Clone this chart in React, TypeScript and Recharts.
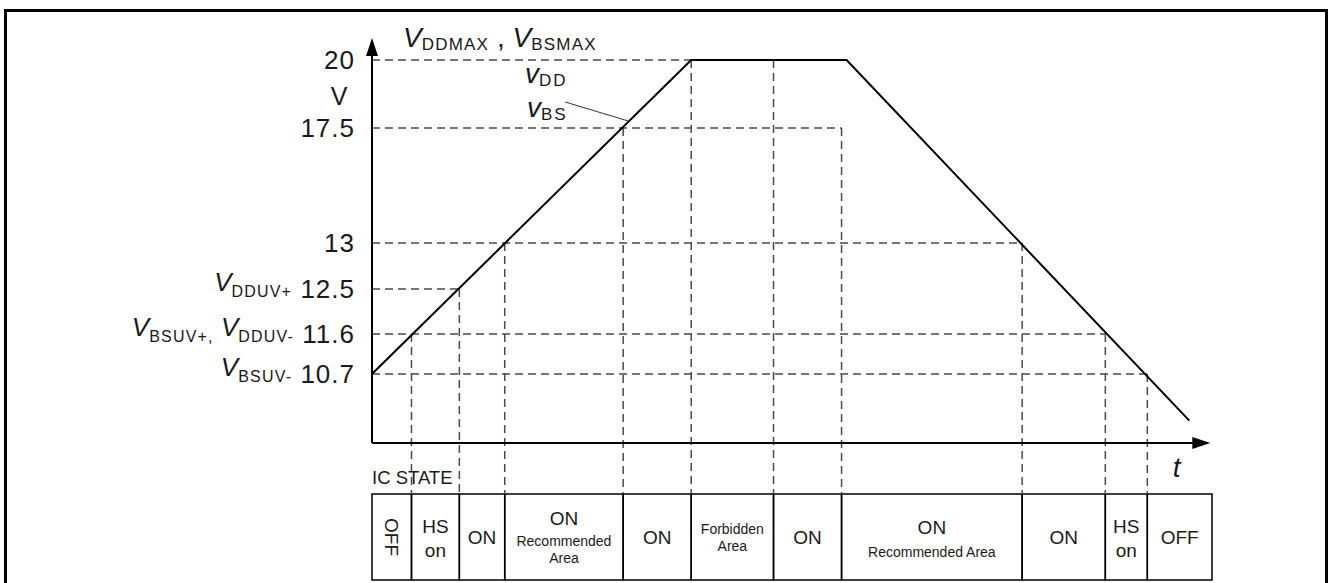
import React from 'react';
import {
  ComposedChart,
  Line,
  XAxis,
  YAxis,
  ReferenceLine,
  ReferenceArea,
  ReferenceDot,
} from 'recharts';

const FONT = '"Liberation Sans", Arial, Helvetica, sans-serif';
const INK = '#1a1a1a';
const DASH = '#4a4a4a';

// ---------------- data ----------------
// supply waveform v_DD / v_BS (time in arbitrary units, volts)
const waveTimes = [0, 38.0, 56.5, 97.3];
const waveVolts = [10.7, 20, 20, 9.65];

// voltage levels shown on the y axis
const levelVolts = [20, 17.5, 13, 12.5, 11.6, 10.7];
const levelNames: [string, string][][] = [
  [],
  [],
  [],
  [['V', 'DDUV+']],
  [['V', 'BSUV+,'], ['\u00a0V', 'DDUV-']],
  [['V', 'BSUV-']],
];
// time at which each level's dashed guide ends
const levelDashEnds = [38.0, 55.9, 77.4, 10.4, 87.3, 92.3];

// transition instants (vertical dashed guides)
const markerTimes = [4.7, 10.4, 15.8, 29.9, 38.0, 47.8, 55.9, 77.4, 87.3, 92.3];
const markerVolts = [11.6, 12.5, 13, 17.5, 20, 20, 17.5, 13, 11.6, 10.7];

// IC state table
const stateBounds = [0, 4.7, 10.4, 15.8, 29.9, 38.0, 47.8, 55.9, 77.4, 87.3, 92.3, 100];
const stateLabels: string[][] = [
  ['OFF'],
  ['HS', 'on'],
  ['ON'],
  ['ON', 'Recommended', 'Area'],
  ['ON'],
  ['Forbidden', 'Area'],
  ['ON'],
  ['ON', 'Recommended Area'],
  ['ON'],
  ['HS', 'on'],
  ['OFF'],
];
const rotatedStates = [0];

// ---------------- schematic (non-linear) voltage scale ----------------
// voltage -> schematic height above the time axis
const SCALE_ANCHORS: [number, number][] = [
  [10.7, 69],
  [11.6, 109],
  [12.5, 154],
  [13, 200],
  [17.5, 315],
  [20, 383],
];
function warp(v: number): number {
  const a = SCALE_ANCHORS;
  let i = 0;
  if (v <= a[0][0]) i = 0;
  else if (v >= a[a.length - 1][0]) i = a.length - 2;
  else {
    while (v > a[i + 1][0]) i++;
  }
  const [v0, h0] = a[i];
  const [v1, h1] = a[i + 1];
  return h0 + ((v - v0) * (h1 - h0)) / (v1 - v0);
}

const Y_MIN = -137;
const Y_MAX = 405;
const TABLE_TOP = -51;
const TABLE_BOTTOM = -137;
const X_MAX = 100;

const waveData = waveTimes.map((t, i) => ({ t, h: warp(waveVolts[i]) }));
const yTicks = levelVolts.map(warp);

// ---------------- renderers ----------------
const YTick = (props: any) => {
  const { x, y, payload } = props;
  const idx = levelVolts.findIndex((v) => Math.abs(warp(v) - payload.value) < 0.01);
  if (idx < 0) return null;
  const names = levelNames[idx] || [];
  const parts: any[] = [];
  names.forEach(([main, sub], k) => {
    parts.push(
      <tspan key={'m' + k} fontStyle="italic" fontSize={26} dy={k === 0 ? -7 : -5.4}>
        {main}
      </tspan>
    );
    parts.push(
      <tspan key={'s' + k} fontSize={16} dy={5.4} letterSpacing={1.2}>
        {sub}
      </tspan>
    );
  });
  parts.push(
    <tspan key="n" dy={names.length ? 1.6 : 0} letterSpacing={1}>
      {(names.length ? '\u00a0' : '') + String(levelVolts[idx])}
    </tspan>
  );
  return (
    <text x={x} y={y + 9.3} textAnchor="end" fontSize={26} fontFamily={FONT} fill={INK}>
      {parts}
    </text>
  );
};

const UpArrow = (p: any) => (
  <path d={`M${p.cx},${p.cy} L${p.cx - 6},${p.cy + 18} L${p.cx + 6},${p.cy + 18} Z`} fill="#000" />
);
const RightArrow = (p: any) => (
  <path d={`M${p.cx},${p.cy} L${p.cx - 18},${p.cy - 6} L${p.cx - 18},${p.cy + 6} Z`} fill="#000" />
);

const TopLabel = (p: any) => (
  <text x={p.cx} y={p.cy} fontFamily={FONT} fill={INK}>
    <tspan fontStyle="italic" fontSize={28}>V</tspan>
    <tspan fontSize={17} dy={2.5} letterSpacing={1.2}>DDMAX</tspan>
    <tspan fontSize={28} dy={-2.5}>{'\u00a0,\u00a0'}</tspan>
    <tspan fontStyle="italic" fontSize={28}>V</tspan>
    <tspan fontSize={17} dy={2.5} letterSpacing={1.2}>BSMAX</tspan>
  </text>
);

const makeVLabel = (sub: string) => (p: any) => (
  <text x={p.cx} y={p.cy} fontFamily={FONT} fill={INK}>
    <tspan fontStyle="italic" fontSize={28}>v</tspan>
    <tspan fontSize={17} dy={3.4} letterSpacing={2}>{sub}</tspan>
  </text>
);

const UnitLabel = (p: any) => (
  <text x={p.cx - 33} y={p.cy} textAnchor="middle" fontSize={25} fontFamily={FONT} fill={INK}>
    V
  </text>
);

const TLabel = (p: any) => (
  <text x={p.cx} y={p.cy} textAnchor="middle" fontSize={28} fontStyle="italic" fontFamily={FONT} fill={INK}>
    t
  </text>
);

const ICLabel = (p: any) => (
  <text x={p.cx} y={p.cy} fontSize={18.5} fontFamily={FONT} fill={INK}>
    IC STATE
  </text>
);

const isSmall = (s: string) => /Recommended|Area|Forbidden/.test(s);
function lineOffsets(lines: string[]): number[] {
  if (lines.length === 1) return [6.5];
  if (lines.length === 3) return [-12, 9, 26];
  if (isSmall(lines[0])) return [-3, 14];
  if (isSmall(lines[1])) return [-3, 20];
  return [-4, 20];
}

const makeCellLabel = (lines: string[], rotated: boolean) => (p: any) => {
  if (rotated) {
    return (
      <text
        x={p.cx}
        y={p.cy + 6.5}
        textAnchor="middle"
        fontSize={19}
        fontFamily={FONT}
        fill={INK}
        transform={`rotate(90, ${p.cx}, ${p.cy})`}
      >
        {lines[0]}
      </text>
    );
  }
  const offs = lineOffsets(lines);
  return (
    <g>
      {lines.map((s, i) => (
        <text
          key={i}
          x={p.cx}
          y={p.cy + offs[i]}
          textAnchor="middle"
          fontSize={isSmall(s) ? 14 : 19}
          fontFamily={FONT}
          fill={INK}
        >
          {s}
        </text>
      ))}
    </g>
  );
};

export default function App() {
  return (
    <div
      style={{
        position: 'absolute',
        left: 0,
        top: 0,
        width: 1330,
        height: 583,
        overflow: 'hidden',
        background: '#fff',
      }}
    >
      <div
        style={{
          position: 'absolute',
          left: 4,
          top: 9,
          width: 1324,
          height: 700,
          border: '3px solid #000',
          boxSizing: 'border-box',
        }}
      />
      <div style={{ position: 'absolute', left: 0, top: 0 }}>
        <ComposedChart
          width={1330}
          height={583}
          data={waveData}
          margin={{ top: 38, right: 118, bottom: 3, left: 0 }}
          style={{ fontFamily: FONT }}
        >
          <XAxis dataKey="t" type="number" domain={[0, X_MAX]} hide allowDataOverflow />
          <YAxis
            type="number"
            domain={[Y_MIN, Y_MAX]}
            ticks={yTicks}
            interval={0}
            width={372}
            axisLine={false}
            tickLine={false}
            tickSize={0}
            tickMargin={17}
            tick={<YTick />}
            allowDataOverflow
          />

          {/* IC state table */}
          {stateLabels.map((lines, i) => (
            <ReferenceArea
              key={'cell' + i}
              x1={stateBounds[i]}
              x2={stateBounds[i + 1]}
              y1={TABLE_BOTTOM}
              y2={TABLE_TOP}
              fill="none"
              fillOpacity={0}
              stroke="#000"
              strokeWidth={1.5}
              ifOverflow="visible"
            />
          ))}
          {stateLabels.map((lines, i) => (
            <ReferenceDot
              key={'cl' + i}
              x={(stateBounds[i] + stateBounds[i + 1]) / 2}
              y={(TABLE_TOP + TABLE_BOTTOM) / 2}
              ifOverflow="visible"
              shape={makeCellLabel(lines, rotatedStates.includes(i))}
            />
          ))}

          {/* horizontal dashed guides */}
          {levelVolts.map((v, i) => (
            <ReferenceLine
              key={'hl' + i}
              segment={[
                { x: 0, y: warp(v) },
                { x: levelDashEnds[i], y: warp(v) },
              ]}
              stroke={DASH}
              strokeWidth={1.5}
              strokeDasharray="8 5"
              ifOverflow="visible"
            />
          ))}
          {/* vertical dashed guides */}
          {markerTimes.map((t, i) => (
            <ReferenceLine
              key={'vl' + i}
              segment={[
                { x: t, y: warp(markerVolts[i]) },
                { x: t, y: TABLE_TOP },
              ]}
              stroke={DASH}
              strokeWidth={1.5}
              strokeDasharray="8 5"
              ifOverflow="visible"
            />
          ))}

          {/* axes */}
          <ReferenceLine
            segment={[
              { x: 0, y: 0 },
              { x: 0, y: Y_MAX - 10 },
            ]}
            stroke="#000"
            strokeWidth={2}
            ifOverflow="visible"
          />
          <ReferenceLine
            segment={[
              { x: 0, y: 0 },
              { x: 98, y: 0 },
            ]}
            stroke="#000"
            strokeWidth={2}
            ifOverflow="visible"
          />
          <ReferenceDot x={0} y={Y_MAX} ifOverflow="visible" shape={UpArrow} />
          <ReferenceDot x={99.8} y={0} ifOverflow="visible" shape={RightArrow} />

          {/* leader from v_BS label */}
          <ReferenceLine
            segment={[
              { x: 23.0, y: 341 },
              { x: 30.5, y: 322 },
            ]}
            stroke="#333"
            strokeWidth={1}
            ifOverflow="visible"
          />

          <Line
            dataKey="h"
            type="linear"
            stroke="#000"
            strokeWidth={2}
            dot={false}
            activeDot={false}
            isAnimationActive={false}
          />

          {/* annotations */}
          <ReferenceDot x={3.7} y={396} ifOverflow="visible" shape={TopLabel} />
          <ReferenceDot x={18.2} y={360} ifOverflow="visible" shape={makeVLabel('DD')} />
          <ReferenceDot x={18.45} y={326} ifOverflow="visible" shape={makeVLabel('BS')} />
          <ReferenceDot x={0} y={338} ifOverflow="visible" shape={UnitLabel} />
          <ReferenceDot x={95.8} y={-34} ifOverflow="visible" shape={TLabel} />
          <ReferenceDot x={0} y={-41} ifOverflow="visible" shape={ICLabel} />
        </ComposedChart>
      </div>
    </div>
  );
}
